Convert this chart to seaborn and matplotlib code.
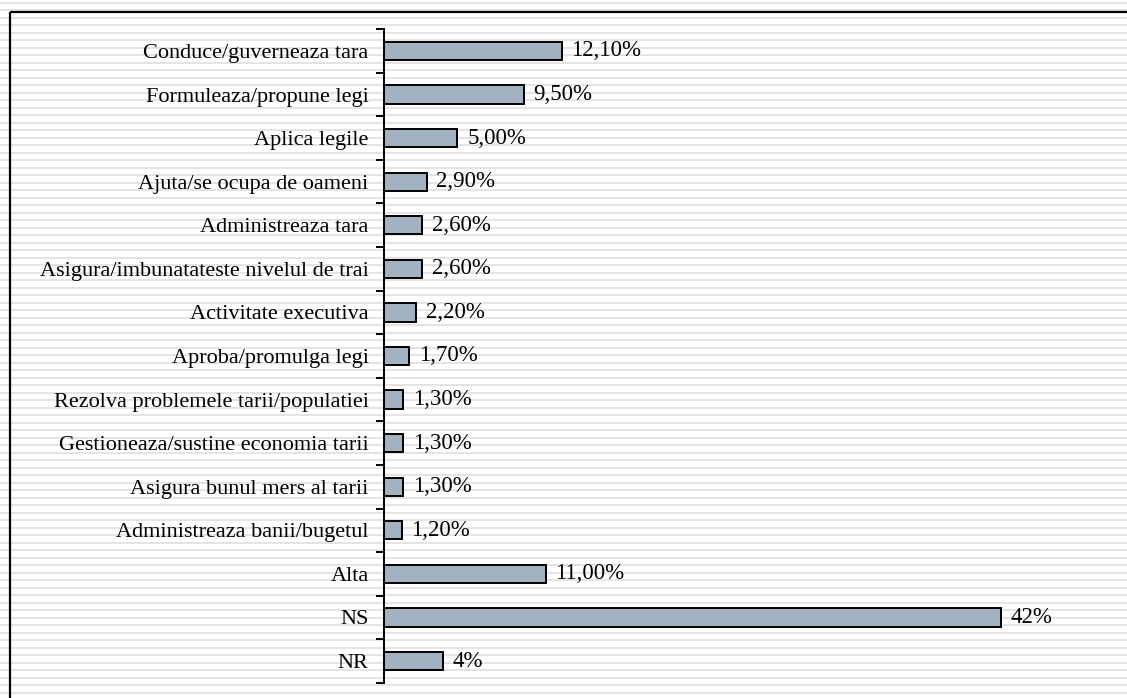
import matplotlib
matplotlib.use("Agg")
import matplotlib.pyplot as plt
import seaborn as sns
import numpy as np
import pandas as pd
from matplotlib.patches import Rectangle

# chart data
categories = [
    "Conduce/guverneaza tara",
    "Formuleaza/propune legi",
    "Aplica legile",
    "Ajuta/se ocupa de oameni",
    "Administreaza tara",
    "Asigura/imbunatateste nivelul de trai",
    "Activitate executiva",
    "Aproba/promulga legi",
    "Rezolva problemele tarii/populatiei",
    "Gestioneaza/sustine economia tarii",
    "Asigura bunul mers al tarii",
    "Administreaza banii/bugetul",
    "Alta",
    "NS",
    "NR",
]
values = [12.1, 9.5, 5.0, 2.9, 2.6, 2.6, 2.2, 1.7, 1.3, 1.3, 1.3, 1.2, 11.0, 42.0, 4.0]
value_labels = ["12,10%", "9,50%", "5,00%", "2,90%", "2,60%", "2,60%", "2,20%",
                "1,70%", "1,30%", "1,30%", "1,30%", "1,20%", "11,00%", "42%", "4%"]

df = pd.DataFrame({"cat": categories, "val": values})

sns.set_style("white")
plt.rcParams['font.family'] = ['Liberation Serif', 'DejaVu Serif']

W, H = 1127, 698
fig = plt.figure(figsize=(W / 100, H / 100), dpi=100)
fig.patch.set_facecolor("white")

# striped background over the whole figure
bg = fig.add_axes([0, 0, 1, 1], zorder=-10)
bg.set_xlim(0, W)
bg.set_ylim(H, 0)
bg.axis("off")
for y in np.arange(1.5, H, 7.5):
    bg.axhspan(y, y + 2.2, color="#e4e4e4", lw=0)
bg.add_patch(Rectangle((9.5, 11.5), W + 20, H + 20, fill=False, ec="black", lw=1.6))

# main axes
left = 384 / W
top = 1 - 29.2 / H
bottom = 1 - 682.8 / H
ax = fig.add_axes([left, bottom, 1 - left, top - bottom])
ax.patch.set_alpha(0)

sns.barplot(data=df, y="cat", x="val", orient="h", color="#a2b2c0",
            edgecolor="black", linewidth=1.4, width=0.42, saturation=1, ax=ax)

ax.set_xlim(0, (W - 384) / ((1001 - 384) / 42))
ax.set_ylim(len(categories) - 0.5, -0.5)
ax.set_xlabel("")
ax.set_ylabel("")
ax.set_xticks([])

for s in ["top", "right", "bottom"]:
    ax.spines[s].set_visible(False)
ax.spines["left"].set_linewidth(1.4)
ax.spines["left"].set_color("black")

ax.set_yticks(np.arange(-0.5, len(categories)), minor=True)
ax.tick_params(axis="y", which="both", left=True)
ax.tick_params(axis="y", which="minor", length=6, width=1.4, direction="out", color="black")
ax.tick_params(axis="y", which="major", length=0, pad=11, labelsize=16, labelcolor="black")

ax.bar_label(ax.containers[0], labels=value_labels, padding=7, fontsize=16.5, color="black")

fig.savefig("out.png", dpi=100)
